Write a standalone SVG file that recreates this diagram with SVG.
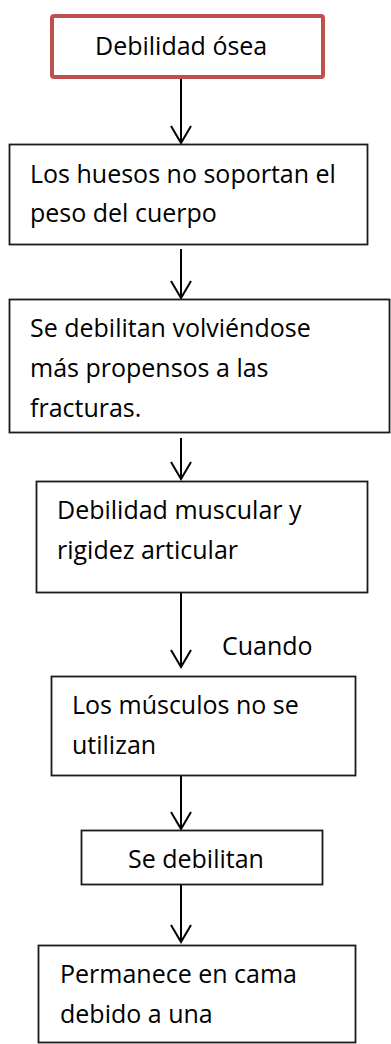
<svg xmlns="http://www.w3.org/2000/svg" width="391" height="1044" viewBox="0 0 391 1044">
<style>
.box{fill:#fff;stroke:#1a1a1a;stroke-width:1.8}
.red{fill:#fff;stroke:#C0504D;stroke-width:4}
.t{font-family:"Open Sans","Noto Sans","Liberation Sans",sans-serif;font-size:25px;fill:#000}
.c{stroke:#000;stroke-width:2;fill:none}
</style>
<defs>
<marker id="ah" markerUnits="userSpaceOnUse" markerWidth="40" markerHeight="40" refX="0" refY="0" orient="auto" overflow="visible">
<path d="M-17,-10 L0,0 L-17,10" fill="none" stroke="#000" stroke-width="2"/>
</marker>
</defs>
<rect width="391" height="1044" fill="#fff"/>
<g id="connectors">
<line class="c" x1="181" y1="79" x2="181" y2="143" marker-end="url(#ah)"/>
<line class="c" x1="181" y1="249" x2="181" y2="298" marker-end="url(#ah)"/>
<line class="c" x1="181" y1="438" x2="181" y2="479" marker-end="url(#ah)"/>
<line class="c" x1="181" y1="593" x2="181" y2="667" marker-end="url(#ah)"/>
<line class="c" x1="181" y1="776" x2="181" y2="829" marker-end="url(#ah)"/>
<line class="c" x1="181" y1="885" x2="181" y2="942" marker-end="url(#ah)"/>
<text class="t" x="222" y="655">Cuando</text>
</g>
<g id="n1">
<rect class="red" x="52" y="16" width="271" height="61" rx="2"/>
<text class="t" x="95" y="55">Debilidad ósea</text>
</g>
<g id="n2">
<rect class="box" x="9.5" y="144.5" width="358" height="100"/>
<text class="t" x="30" y="183">Los huesos no soportan el</text>
<text class="t" x="30" y="222">peso del cuerpo</text>
</g>
<g id="n3">
<rect class="box" x="9.5" y="299.5" width="380" height="133"/>
<text class="t" x="30" y="337">Se debilitan volviéndose</text>
<text class="t" x="30" y="377">más propensos a las</text>
<text class="t" x="30" y="417">fracturas.</text>
</g>
<g id="n4">
<rect class="box" x="36.5" y="481.5" width="331" height="111"/>
<text class="t" x="57" y="519">Debilidad muscular y</text>
<text class="t" x="57" y="559">rigidez articular</text>
</g>
<g id="n5">
<rect class="box" x="51.5" y="676.5" width="304" height="99"/>
<text class="t" x="72" y="714">Los músculos no se</text>
<text class="t" x="72" y="754">utilizan</text>
</g>
<g id="n6">
<rect class="box" x="81.5" y="830.5" width="241" height="54"/>
<text class="t" x="128" y="868">Se debilitan</text>
</g>
<g id="n7">
<rect class="box" x="38.5" y="945.5" width="317" height="97"/>
<text class="t" x="60" y="983">Permanece en cama</text>
<text class="t" x="60" y="1023">debido a una</text>
</g>
</svg>
